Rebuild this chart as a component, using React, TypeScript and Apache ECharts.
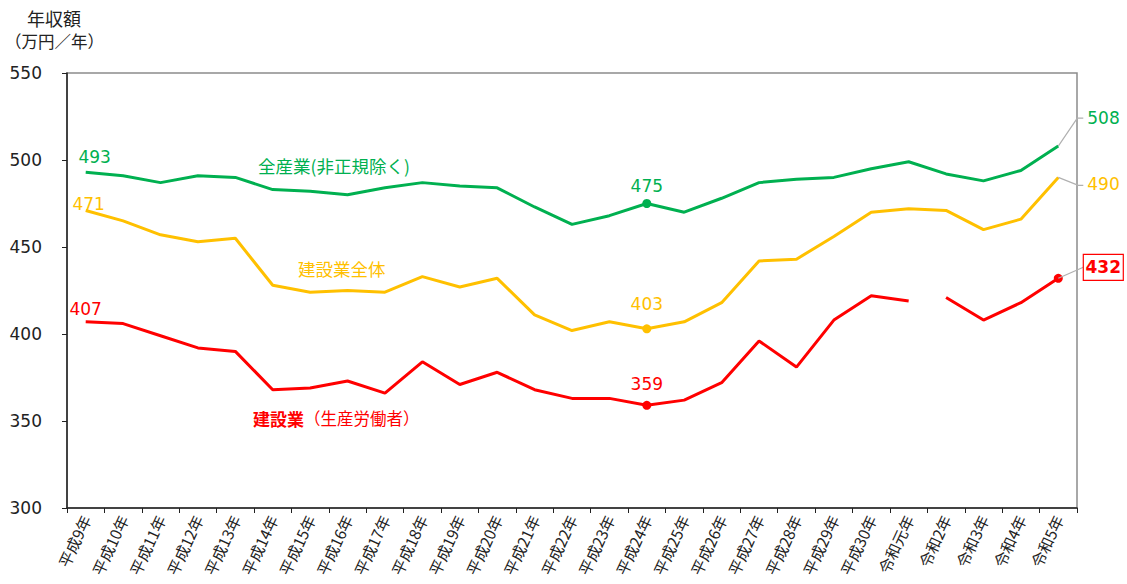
import React, { useEffect, useRef } from "react";
import * as echarts from "echarts";

const categories = [
  "平成9年", "平成10年", "平成11年", "平成12年", "平成13年", "平成14年", "平成15年",
  "平成16年", "平成17年", "平成18年", "平成19年", "平成20年", "平成21年", "平成22年",
  "平成23年", "平成24年", "平成25年", "平成26年", "平成27年", "平成28年", "平成29年",
  "平成30年", "令和元年", "令和2年", "令和3年", "令和4年", "令和5年",
];

const allIndustry = [493, 491, 487, 491, 490, 483, 482, 480, 484, 487, 485, 484, 473, 463, 468, 475, 470, 478, 487, 489, 490, 495, 499, 492, 488, 494, 508];
const constructionAll = [471, 465, 457, 453, 455, 428, 424, 425, 424, 433, 427, 432, 411, 402, 407, 403, 407, 418, 442, 443, 456, 470, 472, 471, 460, 466, 490];
const constructionWorkers = [407, 406, 399, 392, 390, 368, 369, 373, 366, 384, 371, 378, 368, 363, 363, 359, 362, 372, 396, 381, 408, 422, 419, 421, 408, 418, 432];
const gapAfterIndex = 22; // line break between 令和元年 and 令和2年
const highlightIndex = 15; // 平成24年

const yTicks = { min: 300, max: 550, interval: 50 };

const GREEN = "#00B050";
const YELLOW = "#FFC000";
const RED = "#FF0000";
const NUM_FONT = "'DejaVu Sans', 'Noto Sans CJK JP', sans-serif";
const JP_FONT = "'Noto Sans CJK JP', 'Noto Sans', sans-serif";

export default function App() {
  const ref = useRef<HTMLDivElement>(null);
  useEffect(() => {
    if (!ref.current) return;
    const chart = echarts.init(ref.current, undefined, { renderer: "svg" });
    const last = categories.length - 1;

    const mkLabel = (color: string, distance: number, offset: number[] = [0, 0]) => ({
      show: true,
      position: "top",
      distance,
      offset,
      color,
      fontSize: 17,
      fontFamily: NUM_FONT,
    });

    const buildData = (arr: any[], firstLbl: any, hlLbl: any) =>
      arr.map((v, i) => {
        if (i === 0) return { value: v, label: firstLbl };
        if (i === highlightIndex) return { value: v, label: hlLbl };
        return v;
      });

    const symSize = (_v: any, p: any) => (p.dataIndex === highlightIndex ? 9 : 0);

    const workersA = constructionWorkers.map((v, i) => (i <= gapAfterIndex ? v : "-"));
    const workersB = constructionWorkers.map((v, i) => (i > gapAfterIndex ? v : "-"));

    const lineCommon = {
      type: "line",
      symbol: "circle",
      symbolSize: symSize,
      showSymbol: true,
      z: 3,
    };

    chart.setOption({
      animation: false,
      grid: { left: 67, right: 50, top: 73, bottom: 76, show: true, borderColor: "#8c8c8c", borderWidth: 1.5, containLabel: false },
      xAxis: {
        type: "category",
        data: categories,
        boundaryGap: true,
        axisLine: { lineStyle: { color: "#222", width: 1.5 } },
        axisTick: { show: true, length: 5, interval: 0, lineStyle: { color: "#222" } },
        axisLabel: { interval: 0, rotate: 65, fontSize: 15.5, color: "#222", fontFamily: JP_FONT, margin: 8 },
        splitLine: { show: false },
      },
      yAxis: {
        type: "value",
        min: yTicks.min,
        max: yTicks.max,
        interval: yTicks.interval,
        axisLine: { show: true, lineStyle: { color: "#222", width: 1.5 } },
        axisTick: { show: true, length: 5, lineStyle: { color: "#222" } },
        axisLabel: { fontSize: 17, color: "#222", fontFamily: NUM_FONT, margin: 25 },
        splitLine: { show: false },
      },
      series: [
        {
          ...lineCommon,
          name: "全産業(非正規除く)",
          data: buildData(allIndustry, mkLabel(GREEN, 7, [9, 0]), mkLabel(GREEN, 5)),
          lineStyle: { color: GREEN, width: 3 },
          itemStyle: { color: GREEN },
        },
        {
          ...lineCommon,
          name: "建設業全体",
          data: buildData(constructionAll, mkLabel(YELLOW, 0, [3, 2]), mkLabel(YELLOW, 12)),
          lineStyle: { color: YELLOW, width: 3 },
          itemStyle: { color: YELLOW },
        },
        {
          ...lineCommon,
          name: "建設業（生産労働者）",
          data: buildData(workersA, mkLabel(RED, 4), mkLabel(RED, 8)),
          lineStyle: { color: RED, width: 3 },
          itemStyle: { color: RED },
        },
        {
          ...lineCommon,
          name: "建設業（生産労働者）2",
          data: workersB,
          symbolSize: (_v: any, p: any) => (p.dataIndex === last ? 9 : 0),
          lineStyle: { color: RED, width: 3 },
          itemStyle: { color: RED },
        },
      ],
    });

    const px = (idx: number, val: number) => chart.convertToPixel({ gridIndex: 0 } as any, [idx, val]) as number[];
    const pG = px(last, allIndustry[last]);
    const pY = px(last, constructionAll[last]);
    const pR = px(last, constructionWorkers[last]);
    const lead = { stroke: "#b0b0b0", lineWidth: 1.2, fill: null };

    chart.setOption({
      graphic: [
        { type: "text", left: 27, top: 9, style: { text: "年収額", fontSize: 18, fill: "#222", fontFamily: JP_FONT } },
        { type: "text", left: 5, top: 33, style: { text: "（万円／年）", fontSize: 16.5, fill: "#222", fontFamily: JP_FONT } },
        { type: "text", x: 258, y: 165, style: { text: "全産業(非正規除く)", fontSize: 17.5, fill: GREEN, fontFamily: JP_FONT, verticalAlign: "middle" } },
        { type: "text", x: 298, y: 268, style: { text: "建設業全体", fontSize: 17.5, fill: YELLOW, fontFamily: JP_FONT, verticalAlign: "middle" } },
        {
          type: "text", x: 253, y: 418,
          style: {
            text: "{b|建設業}{n|（生産労働者）}",
            verticalAlign: "middle",
            rich: {
              b: { fontSize: 17, fontWeight: "bold", fill: RED, color: RED, fontFamily: JP_FONT },
              n: { fontSize: 16.5, fill: RED, color: RED, fontFamily: JP_FONT },
            },
          },
        },
        { type: "polyline", shape: { points: [[pG[0], pG[1]], [pG[0] + 19, pG[1] - 28], [pG[0] + 25, pG[1] - 28]] }, style: lead, z: 10 },
        { type: "text", x: pG[0] + 29, y: pG[1] - 28, style: { text: String(allIndustry[last]), fontSize: 17, fill: GREEN, fontFamily: NUM_FONT, verticalAlign: "middle" } },
        { type: "polyline", shape: { points: [[pY[0], pY[1]], [pY[0] + 20, pY[1] + 8], [pY[0] + 25, pY[1] + 8]] }, style: lead, z: 10 },
        { type: "text", x: pY[0] + 29, y: pY[1] + 7, style: { text: String(constructionAll[last]), fontSize: 17, fill: YELLOW, fontFamily: NUM_FONT, verticalAlign: "middle" } },
        { type: "polyline", shape: { points: [[pR[0], pR[1]], [pR[0] + 25, pR[1] - 11]] }, style: lead, z: 10 },
        { type: "rect", shape: { x: pR[0] + 25, y: pR[1] - 24, width: 40, height: 26 }, style: { fill: "#fff", stroke: RED, lineWidth: 1.2 }, z: 10 },
        { type: "text", x: pR[0] + 45, y: pR[1] - 11, style: { text: String(constructionWorkers[last]), fontSize: 17, fontWeight: "bold", fill: RED, fontFamily: NUM_FONT, align: "center", verticalAlign: "middle" }, z: 11 },
      ],
    });

    return () => chart.dispose();
  }, []);
  return <div ref={ref} style={{ position: "absolute", left: 0, top: 0, width: 1127, height: 584, background: "#fff" }} />;
}
